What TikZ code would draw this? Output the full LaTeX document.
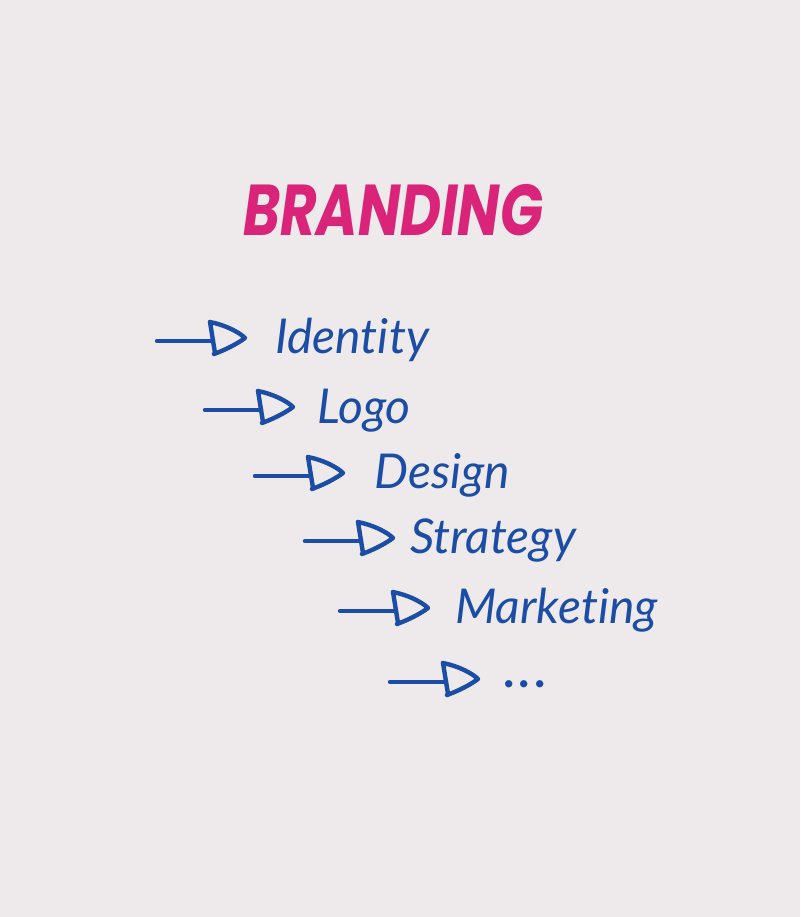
\documentclass[tikz,border=0pt]{standalone}
\usepackage{fontspec}
\usepackage{graphicx}
\setmainfont{Lato}[Ligatures={NoCommon,NoRare}]
\newfontfamily\brandfont{Poppins}
\definecolor{bgcol}{HTML}{EEE9EA}
\definecolor{brandpink}{HTML}{DA2479}
\definecolor{inkblue}{HTML}{1B4DA6}
\tikzset{
  blueline/.style={draw=inkblue, line width=4.4pt, line cap=round, line join=round},
  itemtext/.style={anchor=base west, inner sep=0pt, text=inkblue, font=\fontsize{48}{56}\selectfont\itshape},
  handarrow/.pic={
    \draw[blueline] (0,0) -- (56,0);
    \draw[blueline] (53,-19) -- (58,12);
    \draw[blueline] (53,-19) .. controls (68,-16) and (82,-9) .. (88,-3)
                    .. controls (80,3) and (68,9) .. (57,13);
  }
}
\begin{document}
\begin{tikzpicture}[x=1pt,y=-1pt]
\fill[bgcol] (0,0) rectangle (800,917);
\useasboundingbox (0,0) rectangle (800,917);
\node[anchor=base west, inner sep=0pt, text=brandpink, font=\brandfont\fontsize{72}{80}\selectfont\bfseries\itshape] (title) at (243,235) {\scalebox{0.78}[1]{BRANDING}};
\coordinate (a1) at (157,341);
\coordinate (a2) at (205,410);
\coordinate (a3) at (255,476);
\coordinate (a4) at (305,541);
\coordinate (a5) at (340,611);
\coordinate (a6) at (390,682);
\pic at (a1) {handarrow};
\pic at (a2) {handarrow};
\pic at (a3) {handarrow};
\pic at (a4) {handarrow};
\pic at (a5) {handarrow};
\pic at (a6) {handarrow};
\node[itemtext] (t1) at (275,353) {Identity};
\node[itemtext] (t2) at (317,423) {Logo};
\node[itemtext] (t3) at (374,488) {Design};
\node[itemtext] (t4) at (410,553) {Strategy};
\node[itemtext] (t5) at (455,623) {Marketing};
\node[itemtext, font=\fontsize{48}{56}\selectfont\bfseries] (t6) at (503,687) {.\hspace{4pt}.\hspace{4pt}.};
\end{tikzpicture}
\end{document}
